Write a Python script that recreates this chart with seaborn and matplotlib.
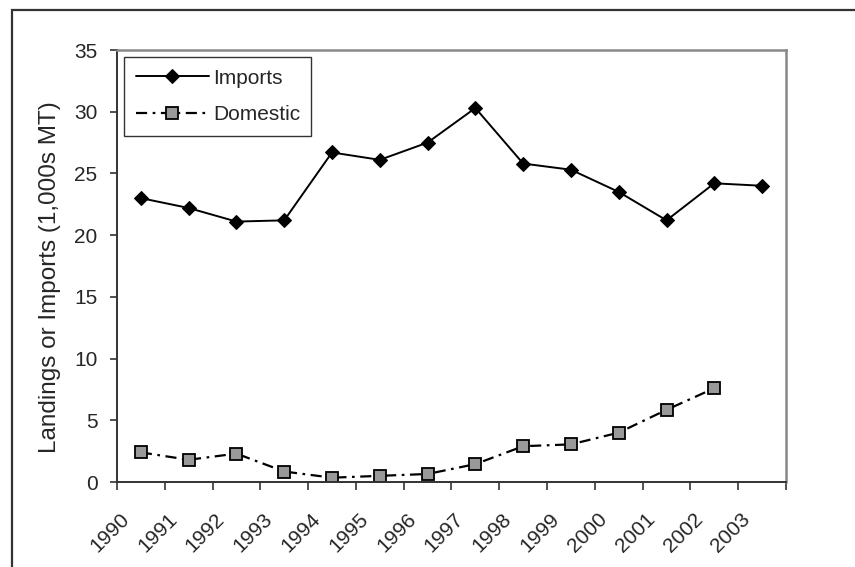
import numpy as np
import pandas as pd
import matplotlib
matplotlib.use("Agg")
import matplotlib.pyplot as plt
import matplotlib.transforms as mtransforms
from matplotlib.patches import Rectangle
from matplotlib.ticker import FixedLocator, MultipleLocator
import seaborn as sns

years = ["1990", "1991", "1992", "1993", "1994", "1995", "1996",
         "1997", "1998", "1999", "2000", "2001", "2002", "2003"]
imports = [23.0, 22.2, 21.1, 21.2, 26.7, 26.1, 27.5,
           30.3, 25.8, 25.3, 23.5, 21.2, 24.2, 24.0]
domestic = [2.4, 1.8, 2.3, 0.85, 0.35, 0.5, 0.65,
            1.45, 2.9, 3.05, 4.0, 5.85, 7.6]


def build_frames():
    imp = pd.DataFrame({"pos": np.arange(len(years)), "value": imports})
    dom = pd.DataFrame({"pos": np.arange(len(domestic)), "value": domestic})
    return imp, dom


def draw_chart(imp, dom):
    sns.set_theme(style="white")
    plt.rcParams["font.family"] = ["Liberation Sans", "DejaVu Sans"]
    plt.rcParams["xtick.labelsize"] = 15
    plt.rcParams["ytick.labelsize"] = 15

    fig = plt.figure(figsize=(8.55, 5.67), dpi=100)
    ax = fig.add_axes([0.1368, 0.1499, 0.7825, 0.7619])

    sns.lineplot(data=imp, x="pos", y="value", ax=ax, color="black",
                 linewidth=1.4, marker="D", markersize=7.5,
                 markerfacecolor="black", markeredgecolor="black",
                 errorbar=None, label="Imports")
    sns.lineplot(data=dom, x="pos", y="value", ax=ax, color="black",
                 linewidth=1.6, linestyle=(0, (5, 2.5, 1.2, 2.5)),
                 marker="s", markersize=9, markerfacecolor="#999999",
                 markeredgecolor="black", markeredgewidth=1.3,
                 errorbar=None, label="Domestic")

    ax.set_xlim(-0.5, len(years) - 0.5)
    ax.set_ylim(0, 35)
    ax.yaxis.set_major_locator(MultipleLocator(5))

    # category labels in the middle, tick marks on the boundaries
    ax.xaxis.set_major_locator(FixedLocator(np.arange(len(years))))
    ax.set_xticklabels(years)
    ax.xaxis.set_minor_locator(FixedLocator(np.arange(len(years) + 1) - 0.5))
    ax.tick_params(axis="x", which="major", length=0, pad=20)
    ax.tick_params(axis="x", which="minor", length=6, width=1.2,
                   color="#333333", direction="out", bottom=True)
    ax.tick_params(axis="y", length=5, width=1.2, color="#333333",
                   direction="out", left=True, pad=9)
    offset = mtransforms.ScaledTranslation(-8 / 100, 0, fig.dpi_scale_trans)
    for lab in ax.get_xticklabels():
        lab.set_rotation(45)
        lab.set_ha("right")
        lab.set_transform(lab.get_transform() + offset)

    ax.set_xlabel("")
    ax.set_ylabel("Landings or Imports (1,000s MT)", fontsize=17.5)
    ax.yaxis.set_label_coords(-0.084, 0.475)

    for side in ["left", "bottom"]:
        ax.spines[side].set_color("#333333")
        ax.spines[side].set_linewidth(1.4)
    for side in ["top", "right"]:
        ax.spines[side].set_color("#888888")
        ax.spines[side].set_linewidth(1.8)

    leg = ax.legend(loc="upper left", fontsize=15, handlelength=3.5,
                    handletextpad=0.2, labelspacing=0.85,
                    borderaxespad=0.35, borderpad=0.55,
                    fancybox=False, framealpha=1)
    leg.get_frame().set_edgecolor("#333333")
    leg.get_frame().set_linewidth(1.0)

    fig.patches.append(Rectangle((12 / 855, -0.1), 1.2, 1.1 - 10 / 567,
                                 transform=fig.transFigure, fill=False,
                                 edgecolor="#333333", linewidth=1.6))
    fig.savefig("out.png", dpi=100)
    plt.close(fig)


if __name__ == "__main__":
    imp, dom = build_frames()
    draw_chart(imp, dom)
